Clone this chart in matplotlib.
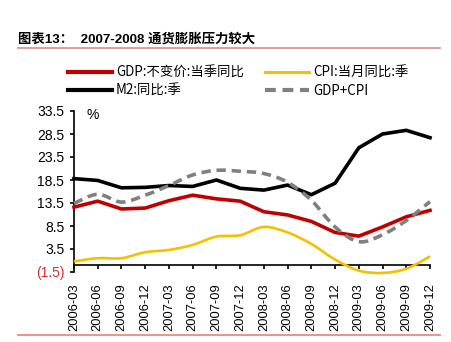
import matplotlib
matplotlib.use("Agg")
import matplotlib.pyplot as plt
from matplotlib.path import Path
from matplotlib.patches import PathPatch
from matplotlib.lines import Line2D
import numpy as np

# Quarterly series, %
quarters = ["2006-03", "2006-06", "2006-09", "2006-12",
            "2007-03", "2007-06", "2007-09", "2007-12",
            "2008-03", "2008-06", "2008-09", "2008-12",
            "2009-03", "2009-06", "2009-09", "2009-12"]
gdp = [12.6, 13.9, 12.2, 12.4, 14.0, 15.2, 14.4, 13.9,
       11.6, 10.9, 9.5, 7.1, 6.3, 8.3, 10.5, 11.9]
cpi = [0.8, 1.5, 1.5, 2.8, 3.3, 4.4, 6.2, 6.5,
       8.3, 7.1, 4.6, 1.2, -1.2, -1.7, -0.8, 1.9]
m2 = [18.8, 18.4, 16.8, 16.9, 17.3, 17.1, 18.5, 16.7,
      16.3, 17.4, 15.3, 17.8, 25.5, 28.5, 29.3, 27.7]
gdp_cpi = [13.4, 15.4, 13.7, 15.2, 17.3, 19.6, 20.6, 20.4,
           19.9, 18.0, 14.1, 8.3, 5.1, 6.6, 9.7, 13.8]
yticks = [-1.5, 3.5, 8.5, 13.5, 18.5, 23.5, 28.5, 33.5]

labels = ["GDP:不变价:当季同比", "CPI:当月同比:季", "M2:同比:季", "GDP+CPI"]

RED = "#c00000"
YELLOW = "#f5c000"
BLACK = "#000000"
GRAY = "#808080"

W, H = 452, 342
fig = plt.figure(figsize=(W / 100, H / 100), dpi=100)
fig.patch.set_facecolor("white")

ax = fig.add_axes([74 / W, 1 - 272 / H, (430 - 74) / W, (272 - 111) / H])
ax.set_facecolor("white")

x = np.arange(len(quarters))


def smooth_path(xs, ys):
    """Excel-style smoothed polyline as a cubic Bezier path."""
    pts = np.column_stack([xs, ys]).astype(float)
    n = len(pts)
    verts = [pts[0]]
    codes = [Path.MOVETO]
    for i in range(n - 1):
        p0 = pts[i - 1] if i > 0 else pts[i]
        p1 = pts[i]
        p2 = pts[i + 1]
        p3 = pts[i + 2] if i + 2 < n else pts[i + 1]
        c1 = p1 + (p2 - p0) / 6.0
        c2 = p2 - (p3 - p1) / 6.0
        verts += [c1, c2, p2]
        codes += [Path.CURVE4] * 3
    return Path(verts, codes)


dash = (0, (2.6, 1.6))

ax.plot(x, gdp, color=RED, lw=2.6, solid_joinstyle="round", zorder=3, clip_on=False)
ax.add_patch(PathPatch(smooth_path(x, cpi), fill=False, edgecolor=YELLOW, lw=1.9,
                       zorder=3, clip_on=False))
ax.plot(x, m2, color=BLACK, lw=2.6, solid_joinstyle="round", zorder=4, clip_on=False)
ax.add_patch(PathPatch(smooth_path(x, gdp_cpi), fill=False, edgecolor=GRAY, lw=2.6,
                       linestyle=dash, zorder=5, clip_on=False))

ax.set_xlim(0, len(quarters) - 1)
ax.set_ylim(-1.5, 33.5)

# axes and ticks
for s in ["top", "right"]:
    ax.spines[s].set_visible(False)
ax.spines["left"].set_linewidth(1.2)
ax.spines["bottom"].set_linewidth(1.2)
ax.spines["bottom"].set_position(("data", 0))

ax.set_yticks(yticks)
ax.set_yticklabels([f"({abs(v):.1f})" if v < 0 else f"{v:.1f}" for v in yticks],
                   fontsize=10, family="Liberation Sans")
ax.get_yticklabels()[0].set_color("#d03030")
ax.tick_params(axis="y", direction="out", length=3, width=1.2, pad=4)

ax.set_xticks(x)
ax.tick_params(axis="x", direction="out", length=3, width=1.2, labelbottom=False)

sec = ax.secondary_xaxis(0.0)
sec.set_xticks(x)
sec.set_xticklabels(quarters, rotation=90, fontsize=9.3, family="Liberation Sans")
sec.tick_params(axis="x", length=0, pad=8)
sec.spines["bottom"].set_visible(False)

ax.text(0.034, 0.975, "%", transform=ax.transAxes, fontsize=10,
        family="Liberation Sans", ha="left", va="center")

# legend
handles = [
    Line2D([], [], color=RED, lw=3.0),
    Line2D([], [], color=BLACK, lw=3.0),
    Line2D([], [], color=YELLOW, lw=2.2),
    Line2D([], [], color=GRAY, lw=3.0, linestyle=dash),
]
leg_labels = [labels[0], labels[2], labels[1], labels[3]]
fig.legend(handles, leg_labels, ncol=2, loc="upper left",
           bbox_to_anchor=(68 / W, 1 - 66 / H), frameon=False,
           prop={"family": ["Noto Sans CJK SC"], "size": 9.6},
           handlelength=3.3, handletextpad=0.3, columnspacing=1.6,
           labelspacing=0.3, borderpad=0, borderaxespad=0)

# title and rules
fig.text(18 / W, 1 - 39 / H, "图表13：  2007-2008 通货膨胀压力较大",
         family=["Liberation Sans", "Noto Sans CJK SC"], fontweight="bold",
         fontsize=9.6, ha="left", va="center")
fig.add_artist(Line2D([18 / W, 440 / W], [1 - 48 / H, 1 - 48 / H],
                      color="#d89898", lw=1.3))
fig.add_artist(Line2D([18 / W, 440 / W], [1 - 335 / H, 1 - 335 / H],
                      color="#ee8888", lw=1.3))

fig.savefig("out.png", dpi=100, facecolor="white")
